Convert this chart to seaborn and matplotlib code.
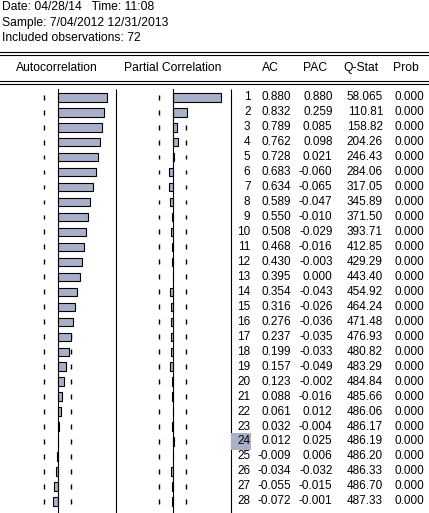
import numpy as np
import pandas as pd
import seaborn as sns
import matplotlib.pyplot as plt
from matplotlib.patches import Rectangle

# correlogram values
header_lines = ["Date: 04/28/14   Time: 11:08",
                "Sample: 7/04/2012 12/31/2013",
                "Included observations: 72"]
nobs = 72
selected_lag = 24

lags = list(range(1, 29))
ac = [0.880, 0.832, 0.789, 0.762, 0.728, 0.683, 0.634, 0.589, 0.550, 0.508,
      0.468, 0.430, 0.395, 0.354, 0.316, 0.276, 0.237, 0.199, 0.157, 0.123,
      0.088, 0.061, 0.032, 0.012, -0.009, -0.034, -0.055, -0.072]
pac = [0.880, 0.259, 0.085, 0.098, 0.021, -0.060, -0.065, -0.047, -0.010, -0.029,
       -0.016, -0.003, 0.000, -0.043, -0.026, -0.036, -0.035, -0.033, -0.049, -0.002,
       -0.016, 0.012, -0.004, 0.025, 0.006, -0.032, -0.015, -0.001]
qstat = [58.065, 110.81, 158.82, 204.26, 246.43, 284.06, 317.05, 345.89, 371.50, 393.71,
         412.85, 429.29, 443.40, 454.92, 464.24, 471.48, 476.93, 480.82, 483.29, 484.84,
         485.66, 486.06, 486.17, 486.19, 486.20, 486.33, 486.70, 487.33]
prob = [0.000] * 28

df = pd.DataFrame({"lag": [str(l) for l in lags], "ac": ac, "pac": pac,
                   "q": qstat, "prob": prob})

W, H = 429, 513
plt.rcParams['font.family'] = ['Liberation Sans', 'DejaVu Sans']
plt.rcParams['font.size'] = 8.5
fig = plt.figure(figsize=(W / 100, H / 100), dpi=100)

bar_color = "#a9b0c9"
row0, row_h = 97.4, 14.96     # pixel centre of first row, row spacing
top = 89                      # where the body starts


def body_axes(x0, x1):
    ax = fig.add_axes([x0 / W, 0, (x1 - x0) / W, (H - top) / H])
    ax.set_ylim((H - row0) / row_h, (top - row0) / row_h)
    ax.axis('off')
    return ax


# background layer in pixel coordinates
bg = fig.add_axes([0, 0, 1, 1])
bg.set_xlim(0, W)
bg.set_ylim(H, 0)
bg.axis('off')
for i, line in enumerate(header_lines):
    bg.text(2, 7.5 + i * 15.2, line, va='center', ha='left', fontsize=8.7)
for y in (52.3, 54.8, 81.2, 83.7):
    bg.axhline(y, color='black', lw=0.8)
for xx, label in [(57, "Autocorrelation"), (172.5, "Partial Correlation"),
                  (270, "AC"), (315, "PAC"), (361, "Q-Stat"), (405.5, "Prob")]:
    bg.text(xx, 68, label, ha='center', va='center', fontsize=8.7)
bg.vlines([115.5, 230.5], top, H, color='black', lw=0.8)

band = 2 / np.sqrt(nobs)
pos = np.arange(len(lags))


def panel(ax, col, zero_px, scale, width_px):
    sns.barplot(data=df, x=col, y="lag", orient='h', color=bar_color,
                edgecolor='black', linewidth=0.8, width=0.56,
                saturation=1, ax=ax, zorder=3)
    ax.set_xlim(-zero_px / scale, (width_px - zero_px) / scale)
    ax.set_ylim((H - row0) / row_h, (top - row0) / row_h)
    ax.axvline(0, color='black', lw=0.8, zorder=4)
    for b in (-band, band):
        ax.vlines(np.full(len(pos), b), pos - 0.17, pos + 0.15,
                  color='black', lw=1.0, zorder=1)
    ax.axis('off')


ax_ac = body_axes(0, 115)
panel(ax_ac, "ac", 57.5, 56.0, 115)
ax_pac = body_axes(115, 230)
panel(ax_pac, "pac", 57.5, 55.3, 115)

# table part
tab = body_axes(230, W)
tab.set_xlim(230, W)


def fmt_q(q):
    d = max(0, 5 - len(str(int(q))))
    return f"{q:.{d}f}"


for k, row in df.iterrows():
    if int(row["lag"]) == selected_lag:
        tab.add_patch(Rectangle((231, k - 0.55), 20, 1.1, color=bar_color, lw=0))
    tab.text(250.5, k, row["lag"], ha='right', va='center')
    tab.text(291, k, f"{row['ac']:.3f}", ha='right', va='center')
    tab.text(332.5, k, f"{row['pac']:.3f}", ha='right', va='center')
    tab.text(383, k, fmt_q(row["q"]), ha='right', va='center')
    tab.text(424.5, k, f"{row['prob']:.3f}", ha='right', va='center')

fig.savefig("out.png", dpi=100)
